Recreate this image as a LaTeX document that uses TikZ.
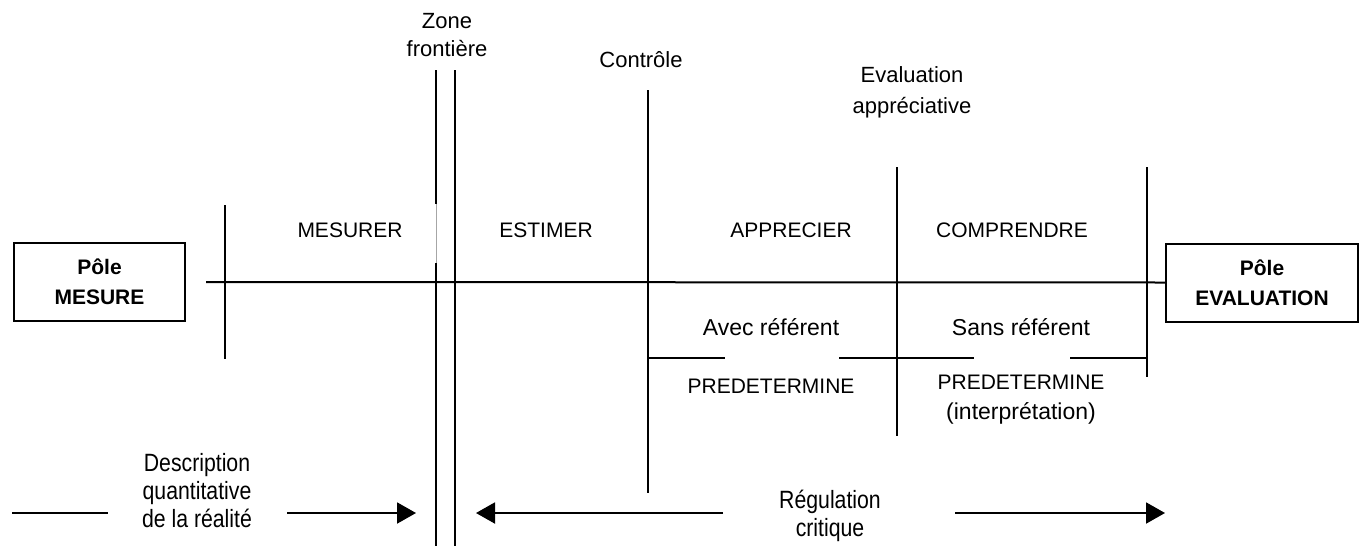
\documentclass[tikz,border=0pt]{standalone}
\usepackage{fontspec}
\setmainfont{Liberation Sans}
\newfontfamily\narrowfont[FakeStretch=0.85]{Liberation Sans}
\usetikzlibrary{arrows.meta,positioning}
\tikzset{
  polebox/.style={
    rectangle, draw=black, line width=1pt,
    minimum width=#1, minimum height=39pt, align=center, inner sep=0pt,
    font=\bfseries\fontsize{10.5}{15}\selectfont
  },
  polebox/.default=86pt,
  zonetext/.style={align=center, inner sep=0pt, font=\fontsize{10.5}{14}\selectfont},
  smalltext/.style={zonetext, font=\fontsize{11.5}{15}\selectfont},
  flowtext/.style={zonetext, font=\narrowfont\fontsize{12.5}{14}\selectfont},
  axisline/.style={line width=1pt},
  flowarrow/.style={-{Triangle[length=9.5pt, width=10.5pt]}, line width=1pt}
}

\begin{document}
\begin{tikzpicture}[x=0.5pt, y=-0.5pt]
\useasboundingbox (0,0) rectangle (1363,546);

% the two poles and the axis between them
\node[polebox=85.5pt] (pmes) at (99.5,282) {Pôle\\MESURE};
\node[polebox=96pt] (pevl) at (1262,282.5) {Pôle\\EVALUATION};
\coordinate (axL) at (206,282);
\draw[axisline] (axL) -- (pevl.west);

% vertical limits
\draw[axisline] (225,205) -- (225,359);
\draw[axisline] (436,70) -- (436,204);
\draw[black!35, line width=0.4pt] (436,204) -- (436,263);
\draw[axisline] (436,263) -- (436,546);
\draw[axisline] (455,70) -- (455,546);
\draw[axisline] (648,90) -- (648,493);
\draw[axisline] (897,167) -- (897,436);
\draw[axisline] (1147,167) -- (1147,377);

% referent line
\draw[axisline] (648,358) -- (725,358);
\draw[axisline] (839,358) -- (974,358);
\draw[axisline] (1070,358) -- (1147,358);

% top labels
\node[smalltext, font=\fontsize{11}{14}\selectfont] (zone) at (447,35) {Zone\\frontière};
\node[smalltext, font=\fontsize{11}{14}\selectfont] (ctrl) at (641,60) {Contrôle};
\node[smalltext, font=\fontsize{11}{15.5}\selectfont] (evapp) at (912,92) {Evaluation\\appréciative};

% actions
\node[zonetext] (mesurer) at (350,230) {MESURER};
\node[zonetext] (estimer) at (546,230) {ESTIMER};
\node[zonetext] (apprec) at (791,230) {APPRECIER};
\node[zonetext] (compr) at (1012,230) {COMPRENDRE};

\node[smalltext] (avec) at (771,327) {Avec référent};
\node[smalltext] (sans) at (1021,327) {Sans référent};
\node[zonetext] (pred1) at (771,386) {PREDETERMINE};
\node[smalltext] (pred2) at (1021,400) {\fontsize{10.5}{14}\selectfont PREDETERMINE\\(interprétation)};

% bottom flows
\node[flowtext] (descr) at (197,491) {Description\\quantitative\\de la réalité};
\node[flowtext] (regul) at (830,516) {Régulation\\critique};

\coordinate (dL0) at (12,513);
\coordinate (dL1) at (108,513);
\coordinate (dA0) at (287,513);
\coordinate (zl) at (416,513);
\coordinate (rA0) at (723,513);
\coordinate (zr) at (476,513);
\coordinate (rB0) at (955,513);
\coordinate (rB1) at (1165,513);

\draw[axisline] (dL0) -- (dL1);
\draw[flowarrow] (dA0) -- (zl);
\draw[flowarrow] (rA0) -- (zr);
\draw[flowarrow] (rB0) -- (rB1);
\end{tikzpicture}
\end{document}
